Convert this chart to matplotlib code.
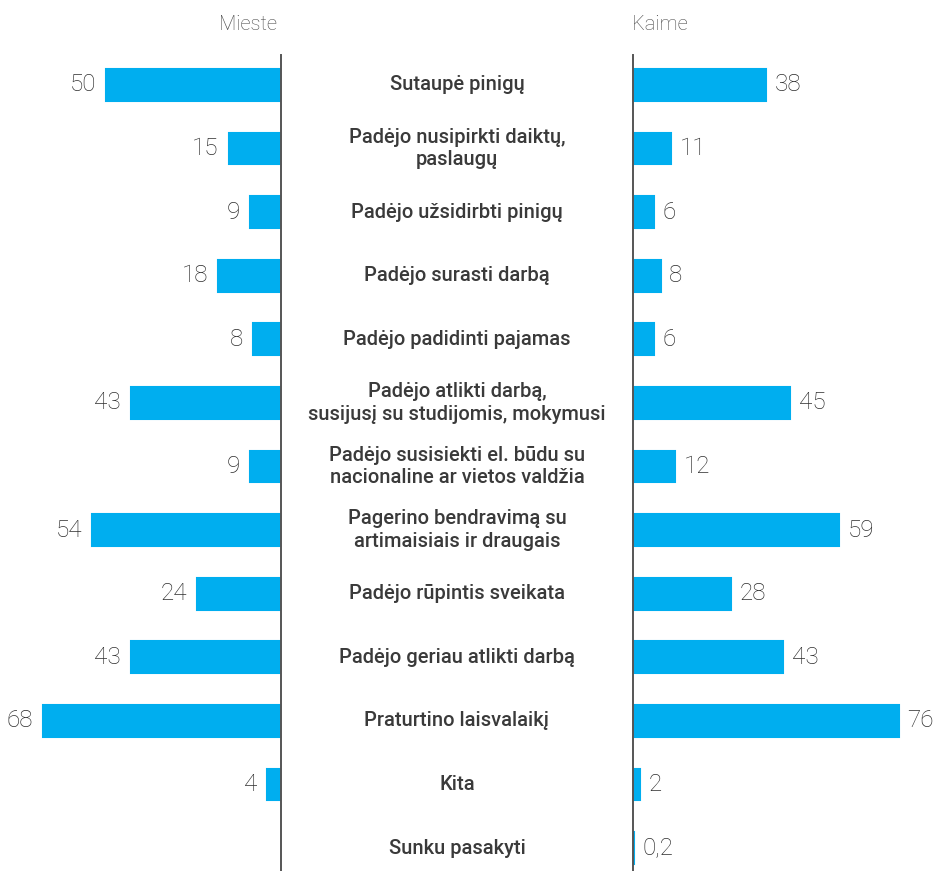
import matplotlib
matplotlib.use("Agg")
from matplotlib import pyplot as plt

categories = [
    "Sutaupė pinigų",
    "Padėjo nusipirkti daiktų,\npaslaugų",
    "Padėjo užsidirbti pinigų",
    "Padėjo surasti darbą",
    "Padėjo padidinti pajamas",
    "Padėjo atlikti darbą,\nsusijusį su studijomis, mokymusi",
    "Padėjo susisiekti el. būdu su\nnacionaline ar vietos valdžia",
    "Pagerino bendravimą su\nartimaisiais ir draugais",
    "Padėjo rūpintis sveikata",
    "Padėjo geriau atlikti darbą",
    "Praturtino laisvalaikį",
    "Kita",
    "Sunku pasakyti",
]
mieste = [50, 15, 9, 18, 8, 43, 9, 54, 24, 43, 68, 4, None]
kaime = [38, 11, 6, 8, 6, 45, 12, 59, 28, 43, 76, 2, 0.2]
mieste_label = "Mieste"
kaime_label = "Kaime"

BLUE = "#00aeef"
TEXT = "#3a3a3a"
NUM = "#2e2e2e"
LINE = "#555555"
FAMILY = ["Roboto", "DejaVu Sans"]


def fmt(v):
    return f"{v:g}".replace(".", ",")


W, H = 942, 871
fig = plt.figure(figsize=(W / 100, H / 100), dpi=100)
fig.patch.set_facecolor("white")

top = (H - 55) / H
ylim = (12.36, -0.47)
ax_l = fig.add_axes([1 / W, 0, 280 / W, top])
ax_r = fig.add_axes([633 / W, 0, 309 / W, top])
ax_m = fig.add_axes([281 / W, 0, 352 / W, top])

rows = list(range(len(categories)))

for ax in (ax_l, ax_r, ax_m):
    ax.set_ylim(*ylim)
    ax.set_xticks([])
    ax.set_yticks([])
    for s in ax.spines.values():
        s.set_visible(False)
    ax.patch.set_alpha(0)

ax_l.set_xlim(80, 0)
ax_r.set_xlim(0, 88.3)

for i, v in zip(rows, mieste):
    if v is None:
        continue
    ax_l.barh(i, v, height=0.5, color=BLUE, edgecolor=BLUE, linewidth=1.5)
    ax_l.annotate(fmt(v), (v, i), xytext=(-7, 0), textcoords="offset points",
                  ha="right", va="center", fontsize=17.5, fontweight="light",
                  color=NUM, family=FAMILY)

for i, v in zip(rows, kaime):
    ax_r.barh(i, v, height=0.5, color=BLUE, edgecolor=BLUE, linewidth=1.5)
    ax_r.annotate(fmt(v), (v, i), xytext=(6, 0), textcoords="offset points",
                  ha="left", va="center", fontsize=17.5, fontweight="light",
                  color=NUM, family=FAMILY)

ax_l.spines["right"].set_visible(True)
ax_l.spines["right"].set_color(LINE)
ax_l.spines["right"].set_linewidth(1.4)
ax_l.spines["right"].set_zorder(3)
ax_r.spines["left"].set_visible(True)
ax_r.spines["left"].set_color(LINE)
ax_r.spines["left"].set_linewidth(1.4)
ax_r.spines["left"].set_zorder(3)

ax_m.set_xlim(0, 1)
for i, c in zip(rows, categories):
    ax_m.text(0.5, i, c, ha="center", va="center", fontsize=14.5,
              fontweight="medium", color=TEXT, family=FAMILY, linespacing=1.25)

fig.text(248 / W, 1 - 24 / H, mieste_label, ha="center", va="center",
         fontsize=14.5, fontweight="light", color="#4a4a4a", family=FAMILY)
fig.text(660 / W, 1 - 24 / H, kaime_label, ha="center", va="center",
         fontsize=14.5, fontweight="light", color="#4a4a4a", family=FAMILY)

fig.savefig("out.png", dpi=100, facecolor="white")
